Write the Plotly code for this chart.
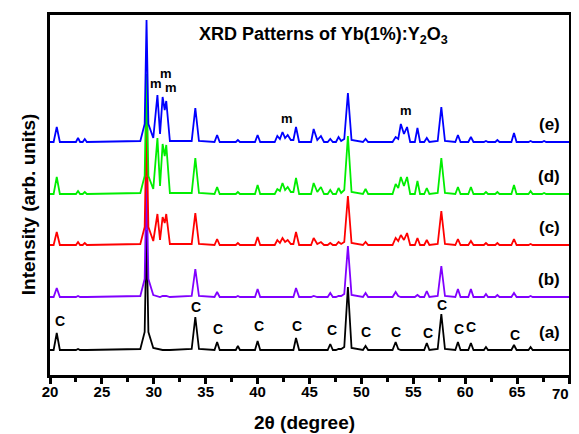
import plotly.graph_objects as go

# ---- data: 2theta sample points (degree) and intensity above each pattern's own baseline ----
two_theta = [
    20.0,
    20.35, 20.65, 20.95,
    22.5, 22.7, 22.9,
    23.15, 23.35, 23.55,
    28.7, 29.12, 29.3, 29.48, 29.95, 30.35, 30.6, 30.85, 31.05, 31.2, 31.55,
    33.65, 34.0, 34.35,
    35.85, 36.1, 36.35,
    37.9, 38.1, 38.3,
    39.75, 40.0, 40.25,
    41.65, 41.9, 42.15, 42.4, 42.65, 42.9, 43.2, 43.45, 43.7, 44.0,
    45.15, 45.4, 45.75, 46.1, 46.4,
    46.75, 47.0, 47.25, 47.55, 47.8, 48.05, 48.35, 48.7, 49.05,
    50.15, 50.4, 50.65,
    53.0, 53.3, 53.55, 53.8, 54.1, 54.4, 54.7,
    55.15, 55.4, 55.65,
    56.05, 56.3, 56.55,
    57.35, 57.7, 58.05,
    59.05, 59.3, 59.55,
    60.3, 60.55, 60.8,
    61.8, 62.0, 62.2,
    62.9, 63.1, 63.3,
    64.45, 64.7, 64.95,
    66.1, 66.3, 66.5,
    67.4, 67.6, 67.8,
    70.0,
]

int_a = [
    0,
    0, 17, 0,
    0, 1, 0,
    0, 0, 0,
    1, 18, 120, 18, 2, 1, 0, 0, 0, 0, 0,
    1, 33, 1,
    0, 8, 0,
    0, 4, 0,
    0, 9, 0,
    0, 0, 0, 0, 0, 0, 0, 0, 12, 0,
    0, 0, 0, 0, 0,
    0, 6, 0, 0, 1, 1, 3, 63, 2,
    0, 4, 0,
    0, 8, 1, 0, 0, 0, 0,
    0, 0, 0,
    0, 7, 0,
    1, 36, 1,
    0, 8, 0,
    0, 7, 0,
    0, 3, 0,
    0, 0, 0,
    0, 5, 0,
    0, 3, 0,
    0, 0, 0,
    0,
]

int_b = [
    0,
    0, 9, 0,
    0, 1, 0,
    0, 0, 0,
    1, 18, 120, 18, 2, 1, 0, 1, 1, 1, 0,
    1, 28, 1,
    0, 5, 0,
    0, 1, 0,
    0, 8, 0,
    0, 0, 0, 0, 0, 0, 0, 0, 9, 0,
    0, 1, 0, 0, 0,
    0, 4, 0, 0, 1, 1, 3, 51, 2,
    0, 4, 0,
    0, 5, 1, 0, 0, 0, 0,
    0, 2, 0,
    0, 6, 0,
    1, 31, 1,
    0, 8, 0,
    0, 8, 0,
    0, 3, 0,
    0, 2, 0,
    0, 4, 0,
    0, 1, 0,
    0, 0, 0,
    0,
]

int_c = [
    0,
    0, 13, 0,
    0, 3, 0,
    0, 2, 0,
    1, 18, 120, 18, 4, 31, 5, 28, 22, 31, 1,
    1, 32, 1,
    0, 6, 0,
    0, 2, 0,
    0, 8, 0,
    0, 5, 2, 7, 3, 5, 1, 1, 13, 0,
    0, 7, 1, 3, 0,
    0, 2, 0, 0, 3, 1, 3, 49, 2,
    0, 3, 0,
    0, 7, 4, 10, 5, 12, 0,
    0, 7, 0,
    0, 5, 0,
    1, 34, 1,
    0, 6, 0,
    0, 4, 0,
    0, 2, 0,
    0, 2, 0,
    0, 6, 0,
    0, 1, 0,
    0, 0, 0,
    0,
]

int_d = [
    0,
    0, 17, 0,
    0, 3, 0,
    0, 2, 0,
    1, 18, 120, 18, 5, 56, 8, 50, 38, 49, 1,
    1, 36, 1,
    0, 7, 0,
    0, 2, 0,
    0, 9, 0,
    0, 5, 3, 11, 4, 7, 2, 2, 16, 0,
    0, 11, 2, 7, 0,
    0, 4, 0, 0, 6, 1, 4, 58, 2,
    0, 5, 0,
    0, 10, 6, 17, 8, 17, 0,
    0, 13, 0,
    0, 6, 0,
    1, 36, 1,
    0, 7, 0,
    0, 7, 0,
    0, 2, 0,
    0, 2, 0,
    0, 9, 0,
    0, 3, 0,
    0, 1, 0,
    0,
]

int_e = [
    0,
    0, 15, 0,
    0, 4, 0,
    0, 3, 0,
    1, 18, 122, 18, 4, 47, 8, 45, 32, 41, 1,
    1, 34, 1,
    0, 7, 0,
    0, 2, 0,
    0, 7, 0,
    0, 6, 3, 10, 4, 7, 2, 2, 15, 0,
    0, 13, 2, 6, 0,
    0, 3, 0, 0, 5, 1, 3, 49, 2,
    0, 3, 0,
    0, 5, 3, 18, 8, 15, 0,
    0, 14, 0,
    0, 4, 0,
    1, 35, 1,
    0, 7, 0,
    0, 5, 0,
    0, 1, 0,
    0, 2, 0,
    0, 9, 0,
    0, 1, 0,
    0, 1, 0,
    0,
]

sample_names = ["(a)", "(b)", "(c)", "(d)", "(e)"]
stack_offsets = [25, 78, 130, 181, 233]
colors = ["#000000", "#8000ff", "#ff0000", "#00ee00", "#0000ff"]

# peak markers: cubic (C) on pattern (a), monoclinic (m) on pattern (e)
c_pos = [20.95, 34.08, 36.2, 40.1, 43.75, 47.2, 50.45, 53.33, 56.4, 57.75, 59.37, 60.6, 64.8]
c_y = [54, 68, 46, 49, 49, 45, 43, 43, 42, 70, 46, 48, 40]
m_pos = [30.25, 31.2, 31.7, 42.8, 54.3]
m_y = [292, 302, 288, 257, 265]

x_ticks = [20, 25, 30, 35, 40, 45, 50, 55, 60, 65, 70]
x_minor = [22.5, 27.5, 32.5, 37.5, 42.5, 47.5, 52.5, 57.5, 62.5, 67.5]

fig = go.Figure()
series = [int_a, int_b, int_c, int_d, int_e]
for name, vals, off, col in zip(sample_names, series, stack_offsets, colors):
    fig.add_trace(go.Scatter(
        x=two_theta, y=[v + off for v in vals], mode="lines", name=name,
        line=dict(color=col, width=1.8), showlegend=False,
    ))

FONT = "Arial, Liberation Sans, sans-serif"
ann = []
for x, y in zip(c_pos, c_y):
    ann.append(dict(x=x, y=y, text="<b>C</b>", showarrow=False,
                    xanchor="center", yanchor="middle",
                    font=dict(family=FONT, size=14, color="black")))
for x, y in zip(m_pos, m_y):
    ann.append(dict(x=x, y=y, text="<b>m</b>", showarrow=False,
                    xanchor="center", yanchor="middle",
                    font=dict(family=FONT, size=13, color="black")))
for name, off in zip(sample_names, stack_offsets):
    ann.append(dict(x=68.1, y=off + 18, text="<b>%s</b>" % name, showarrow=False,
                    xanchor="center", yanchor="middle",
                    font=dict(family=FONT, size=17, color="black")))
ann.append(dict(xref="paper", yref="paper", x=0.527, y=0.944,
                xanchor="center", yanchor="middle",
                text="<b>XRD Patterns of Yb(1%):Y<sub>2</sub>O<sub>3</sub></b>",
                showarrow=False, font=dict(family=FONT, size=18, color="black")))
ann.append(dict(xref="paper", yref="paper", x=0.49, y=-0.133,
                xanchor="center", yanchor="middle",
                text="<b>2θ (degree)</b>", showarrow=False,
                font=dict(family=FONT, size=19, color="black")))
ann.append(dict(xref="paper", yref="paper", x=-0.042, y=0.475, textangle=-90,
                xanchor="center", yanchor="middle",
                text="<b>Intensity (arb. units)</b>", showarrow=False,
                font=dict(family=FONT, size=19, color="black")))
# last tick label kept inside the figure edge
ann.append(dict(xref="paper", yref="paper", x=1.0035, y=-0.052,
                xanchor="right", yanchor="middle", xshift=0,
                text="<b>%d</b>" % x_ticks[-1], showarrow=False,
                font=dict(family=FONT, size=15, color="black")))

tick_text = [str(t) for t in x_ticks[:-1]] + [""]

# the page body adds an 8 px margin, so the figure is sized to fit inside the window
fig.update_layout(
    width=563, height=426,
    margin=dict(l=42, r=2, t=7, b=59),
    paper_bgcolor="white", plot_bgcolor="white",
    annotations=ann,
    xaxis=dict(
        range=[20, 70], tickvals=x_ticks, ticktext=tick_text,
        showline=True, mirror=True, linecolor="black", linewidth=3,
        ticks="outside", ticklen=6, tickwidth=3, tickcolor="black",
        ticklabelstandoff=-5, ticklabeloverflow="allow",
        minor=dict(tickvals=x_minor, ticks="outside", ticklen=4, tickwidth=3,
                   tickcolor="black"),
        showgrid=False, zeroline=False, automargin=False,
        tickfont=dict(family=FONT, size=15, color="black", weight="bold"),
    ),
    yaxis=dict(
        range=[0, 360], showline=True, mirror=True, linecolor="black", linewidth=3,
        showticklabels=False, ticks="", showgrid=False, zeroline=False,
        automargin=False,
    ),
)

fig.write_html("out.html")
